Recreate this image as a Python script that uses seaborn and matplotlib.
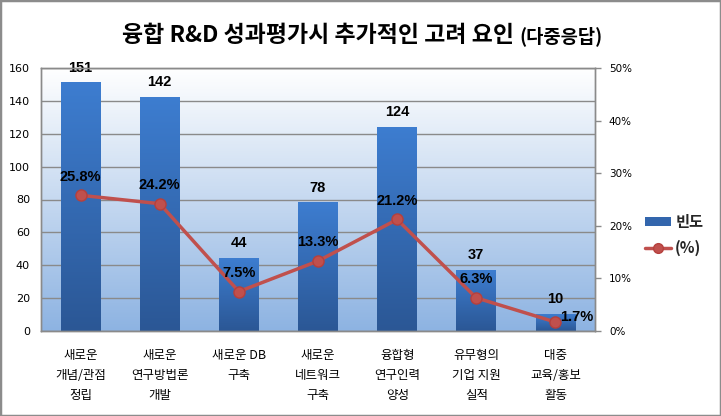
import numpy as np
import matplotlib
matplotlib.use('Agg')
import matplotlib.pyplot as plt
import seaborn as sns
import pandas as pd
from matplotlib.patches import Patch, Rectangle
from matplotlib.lines import Line2D
from matplotlib.colors import LinearSegmentedColormap
from matplotlib.ticker import FuncFormatter

categories = ["새로운\n개념/관점\n정립", "새로운\n연구방법론\n개발", "새로운 DB\n구축",
              "새로운\n네트워크\n구축", "융합형\n연구인력\n양성", "유무형의\n기업 지원\n실적",
              "대중\n교육/홍보\n활동"]
counts = [151, 142, 44, 78, 124, 37, 10]
percents = [25.8, 24.2, 7.5, 13.3, 21.2, 6.3, 1.7]
left_ticks = [0, 20, 40, 60, 80, 100, 120, 140, 160]
right_ticks = [0, 10, 20, 30, 40, 50]
legend_labels = ["빈도", "(%)"]
title_main = "융합 R&D 성과평가시 추가적인 고려 요인"
title_sub = "(다중응답)"

sns.set_theme(style='white')
plt.rcParams['font.family'] = ['Noto Sans CJK KR', 'DejaVu Sans']

BAR_TOP = '#3d7dd0'
BAR_BOT = '#2b5795'
LINE_C = '#c0504d'
GRID_C = '#8a8a8a'

fig = plt.figure(figsize=(7.21, 4.16), dpi=100)
ax = fig.add_axes([41/721, 1-331/416, (595-41)/721, (331-68)/416])

df = pd.DataFrame({'cat': categories, 'count': counts, 'pct': percents})
sns.barplot(data=df, x='cat', y='count', ax=ax, width=0.5, color=BAR_BOT, saturation=1)

# plot-area gradient background
grad = np.linspace(0, 1, 256).reshape(-1, 1)
bg_cmap = LinearSegmentedColormap.from_list('bg', ['#8db3e2', '#ffffff'])
ax.imshow(grad, cmap=bg_cmap, extent=[0, 1, 0, 1], transform=ax.transAxes,
          aspect='auto', origin='lower', zorder=0)

# gradient bars
bar_cmap = LinearSegmentedColormap.from_list('bar', [BAR_BOT, BAR_TOP])
for p in list(ax.patches):
    x0, y0, w, h = p.get_x(), p.get_y(), p.get_width(), p.get_height()
    ax.imshow(grad, cmap=bar_cmap, extent=[x0, x0 + w, y0, y0 + h],
              aspect='auto', origin='lower', zorder=1.5)
    p.set_facecolor('none')
    p.set_edgecolor('none')

ax.set_xlim(-0.5, 6.5)
ax.set_ylim(0, 160)
ax.set_yticks(left_ticks)
ax.set_axisbelow(True)
ax.yaxis.grid(True, color=GRID_C, linewidth=1)
ax.xaxis.grid(False)
ax.set_xlabel('')
ax.set_ylabel('')
ax.tick_params(axis='y', length=0, pad=8, labelsize=8, labelcolor='black')
ax.tick_params(axis='x', length=0, pad=13, labelsize=9, labelcolor='black')
for lab in ax.get_yticklabels():
    lab.set_family('DejaVu Sans')
for lab in ax.get_xticklabels():
    lab.set_linespacing(1.7)
for s in ax.spines.values():
    s.set_color(GRID_C)
    s.set_linewidth(1)

# count labels
for i, c in enumerate(counts):
    ax.annotate(str(c), (i, c), xytext=(0, 11), textcoords='offset points',
                ha='center', va='center', fontsize=10.5, fontweight='bold',
                family='Liberation Sans', color='black', zorder=5)

# percent line
ax2 = ax.twinx()
sns.lineplot(data=df, x='cat', y='pct', ax=ax2, sort=False, color=LINE_C,
             linewidth=2.5, marker='o', markersize=8, markeredgecolor='#b5403d',
             markeredgewidth=1, zorder=4)
ax2.set_ylim(0, 50)
ax2.set_yticks(right_ticks)
ax2.yaxis.set_major_formatter(FuncFormatter(lambda v, _: f"{int(v)}%"))
ax2.set_ylabel('')
ax2.set_xlabel('')
ax2.tick_params(axis='y', length=4, width=1, color=GRID_C, direction='out',
                pad=6, labelsize=7.5, labelcolor='black')
for lab in ax2.get_yticklabels():
    lab.set_family('DejaVu Sans')
for s in ax2.spines.values():
    s.set_color(GRID_C)
    s.set_linewidth(1)
ax.set_xlim(-0.5, 6.5)

n = len(percents)
for i, p in enumerate(percents):
    off = (15, 4) if i == n - 1 else (0, 13.5)
    ax2.annotate(f"{p}%", (i, p), xytext=off, textcoords='offset points',
                 ha='center', va='center', fontsize=10.5, fontweight='bold',
                 family='Liberation Sans', color='black', zorder=6)

# legend
handles = [Patch(facecolor='#3366ad', edgecolor='none'),
           Line2D([0], [0], color=LINE_C, lw=2.5, marker='o', markersize=7,
                  markeredgecolor='#b5403d')]
fig.legend(handles, legend_labels, loc='center left',
           bbox_to_anchor=(634/721, 1-235/416), frameon=False,
           prop={'size': 11, 'weight': 'bold', 'family': ['Noto Sans CJK KR', 'DejaVu Sans']},
           handlelength=1.7, handleheight=0.55, handletextpad=0.3, labelspacing=0.7,
           borderpad=0.2)

# title
t1 = fig.text(318/721, 1-36/416, title_main, ha='center', va='center',
              fontsize=16.5, fontweight='bold', color='black')
ax.annotate(title_sub, xy=(1, 0.5), xycoords=t1, xytext=(4, 0),
            textcoords='offset points', ha='left', va='center',
            fontsize=13.5, fontweight='bold', color='black', annotation_clip=False)

# outer border
fig.add_artist(Rectangle((0, 0), 1, 1, transform=fig.transFigure, fill=False,
                         edgecolor='#8c8c8c', linewidth=2.5))

fig.savefig('out.png', dpi=100)
